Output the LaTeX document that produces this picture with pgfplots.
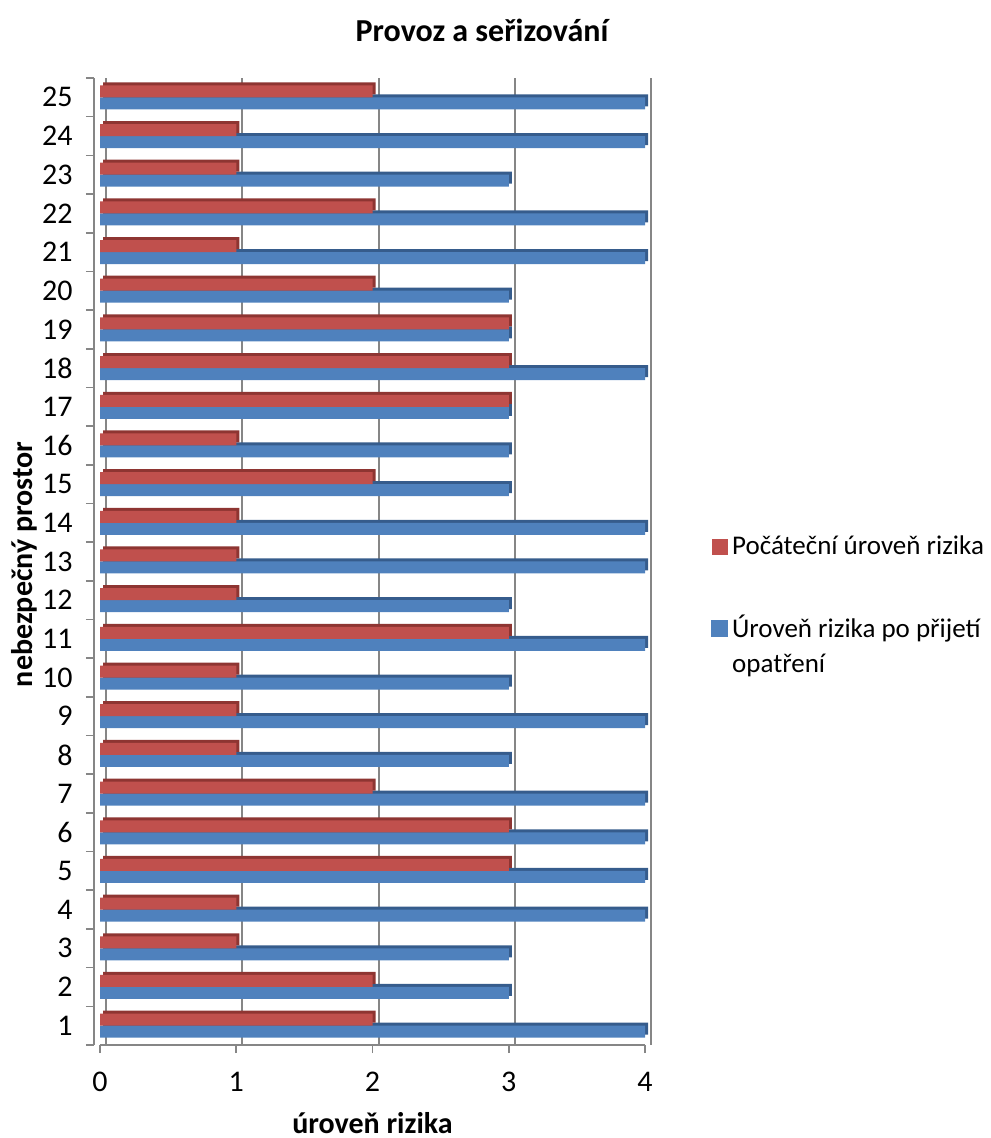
\documentclass[border=0pt]{standalone}
\usepackage{fontspec}
\setmainfont{Carlito}
\usepackage{pgfplots}
\pgfplotsset{compat=1.18}
\definecolor{redbar}{HTML}{C0504D}
\definecolor{redtop}{HTML}{8E3532}
\definecolor{bluebar}{HTML}{4F81BD}
\definecolor{bluetop}{HTML}{365C8C}
\definecolor{gridgray}{HTML}{868686}
\pgfplotstableread{
cat initial after
1  2 4
2  2 3
3  1 3
4  1 4
5  3 4
6  3 4
7  2 4
8  1 3
9  1 4
10 1 3
11 3 4
12 1 3
13 1 4
14 1 4
15 2 3
16 1 3
17 3 3
18 3 4
19 3 3
20 2 3
21 1 4
22 2 4
23 1 3
24 1 4
25 2 4
}\risk
\begin{document}
\fontsize{13.5}{16.5}\selectfont
\begin{tikzpicture}
\useasboundingbox (-50pt,-46.5pt) rectangle (445pt,522.5pt);
\begin{axis}[
  at={(0pt,0pt)}, anchor=south west,
  scale only axis, width=272.5pt, height=483.5pt,
  clip=false,
  xbar,
  xmin=0, xmax=4, ymin=0.5, ymax=25.5,
  xtick={0,1,2,3,4},
  ytick={1,...,25},
  minor ytick={0.5,1.5,...,25.5},
  major tick length=0pt,
  minor tick length=4pt,
  tick align=outside,
  axis x line*=bottom, axis y line*=left,
  axis y line shift=3pt,
  axis line style={gridgray, line width=0.8pt},
  every tick/.style={gridgray, line width=0.8pt},
  xmajorgrids, major grid style={gridgray, line width=1pt, xshift=3pt},
  /pgf/number format/assume math mode=true,
  ticklabel style={font=\fontsize{15}{18}\selectfont},
  xticklabel style={yshift=-9pt},
  yticklabel style={xshift=-6pt},
  extra x ticks={0,1,2,3,4}, extra x tick labels={},
  extra x tick style={major tick length=4pt, grid=none},
  xlabel={úroveň rizika},
  ylabel={nebezpečný prostor},
  every axis x label/.style={at={(axis description cs:0.5,0)}, anchor=center, yshift=-39pt,
    font=\fontsize{15}{18}\selectfont\bfseries},
  every axis y label/.style={at={(axis description cs:-0.138,0.497)}, anchor=center, rotate=90,
    font=\fontsize{15}{18}\selectfont\bfseries},
  legend style={at={(axis description cs:1.11,0.535)}, anchor=north west, draw=none, fill=none,
    cells={anchor=west, align=left}, row sep=24pt, font=\fontsize{13.5}{17.5}\selectfont},
  legend image code/.code={\fill[#1] (0pt,-4pt) rectangle (8pt,4pt);},
]
% back faces (top and end) of the bars, drawn first so that the front faces overlap them
\addplot[fill=bluetop, draw=none, bar width=6pt, bar shift=-1.5pt, xshift=1.5pt, forget plot]
  table[x=after, y=cat] {\risk};
\addplot[fill=bluebar, draw=none, bar width=6pt, bar shift=-3pt, forget plot]
  table[x=after, y=cat] {\risk};
\addplot[fill=redtop, draw=none, bar width=6pt, bar shift=4.5pt, xshift=1.5pt, forget plot]
  table[x=initial, y=cat] {\risk};
% initial risk level
\addplot[fill=redbar, draw=none, bar width=6pt, bar shift=3pt]
  table[x=initial, y=cat] {\risk};
% risk level after measures (its swatch sits level with the first line of the entry)
\addlegendimage{legend image code/.code={\fill[bluebar] (0pt,4.75pt) rectangle (8pt,12.75pt);}}
\legend{Počáteční úroveň rizika, Úroveň rizika po přijetí\\opatření}
\end{axis}
\node[font=\fontsize{16}{19}\selectfont\bfseries] at (191pt,507.5pt) {Provoz a seřizování};
\end{tikzpicture}
\end{document}
